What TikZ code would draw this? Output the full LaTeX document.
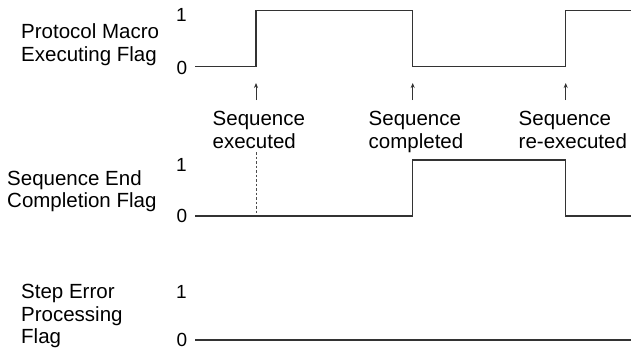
\documentclass[tikz,border=0pt]{standalone}
\usepackage{fontspec}
\setmainfont{Liberation Sans}
\usetikzlibrary{arrows.meta}
\begin{document}
\begin{tikzpicture}[x=1pt,y=-1pt,
  lbl/.style={font=\fontsize{20.5}{22.5}\selectfont, align=left, anchor=base west, inner sep=0pt, text=black},
  evt/.style={font=\fontsize{20.5}{23}\selectfont, align=left, anchor=base west, inner sep=0pt, text=black},
  dig/.style={font=\fontsize{19}{22}\selectfont, inner sep=0pt, text=black},
  wave/.style={draw=black!80, line width=1.3pt, line join=miter},
  evarrow/.style={draw=black!80, line width=0.8pt, -{Stealth[length=5pt,width=4pt]}},
  guide/.style={draw=black!70, line width=0.9pt, dash pattern=on 2.5pt off 2pt}
]
\useasboundingbox (0,0) rectangle (631,351);

% row labels (anchor = baseline of last line)
\node[lbl] (l1) at (21,61) {Protocol Macro\\Executing Flag};
\node[lbl] (l2) at (7,207.5) {Sequence End\\Completion Flag};
\node[lbl] (l3) at (21,343.5) {Step Error\\Processing\\Flag};

% level digits
\node[dig] (h1) at (181.5,15) {1};
\node[dig] (z1) at (182,67.5) {0};
\node[dig] (h2) at (181.5,165) {1};
\node[dig] (z2) at (182,216) {0};
\node[dig] (h3) at (181.5,292) {1};
\node[dig] (z3) at (182,340) {0};

% row 1 waveform
\coordinate (a0) at (195,66.7);
\coordinate (a1) at (256,66.7);
\coordinate (a2) at (256,10.7);
\coordinate (a3) at (412.7,10.7);
\coordinate (a4) at (412.7,66.7);
\coordinate (a5) at (565.7,66.7);
\coordinate (a6) at (565.7,10.7);
\coordinate (a7) at (631,10.7);
\draw[wave] (a0) -- (a1) -- (a2) -- (a3) -- (a4) -- (a5) -- (a6) -- (a7);

% row 2 waveform
\coordinate (b0) at (195,216);
\coordinate (b1) at (412.7,216);
\coordinate (b2) at (412.7,160);
\coordinate (b3) at (565.7,160);
\coordinate (b4) at (565.7,216);
\coordinate (b5) at (631,216);
\draw[wave] (b0) -- (b1) -- (b2) -- (b3) -- (b4) -- (b5);

% row 3 waveform
\coordinate (c0) at (195,340);
\coordinate (c1) at (631,340);
\draw[wave] (c0) -- (c1);

% event arrows
\coordinate (e1s) at (256,100);
\coordinate (e1t) at (256,83);
\coordinate (e2s) at (412.7,100);
\coordinate (e2t) at (412.7,83);
\coordinate (e3s) at (565.7,100);
\coordinate (e3t) at (565.7,83);
\draw[evarrow] (e1s) -- (e1t);
\draw[evarrow] (e2s) -- (e2t);
\draw[evarrow] (e3s) -- (e3t);

% event labels (anchor = baseline of last line)
\node[evt] (t1) at (212.5,148.5) {Sequence\\executed};
\node[evt] (t2) at (368.5,148.5) {Sequence\\completed};
\node[evt] (t3) at (518.5,148.5) {Sequence\\re-executed};

% dashed guide
\coordinate (g1) at (256,152);
\coordinate (g2) at (256,214);
\draw[guide] (g1) -- (g2);
\end{tikzpicture}
\end{document}
